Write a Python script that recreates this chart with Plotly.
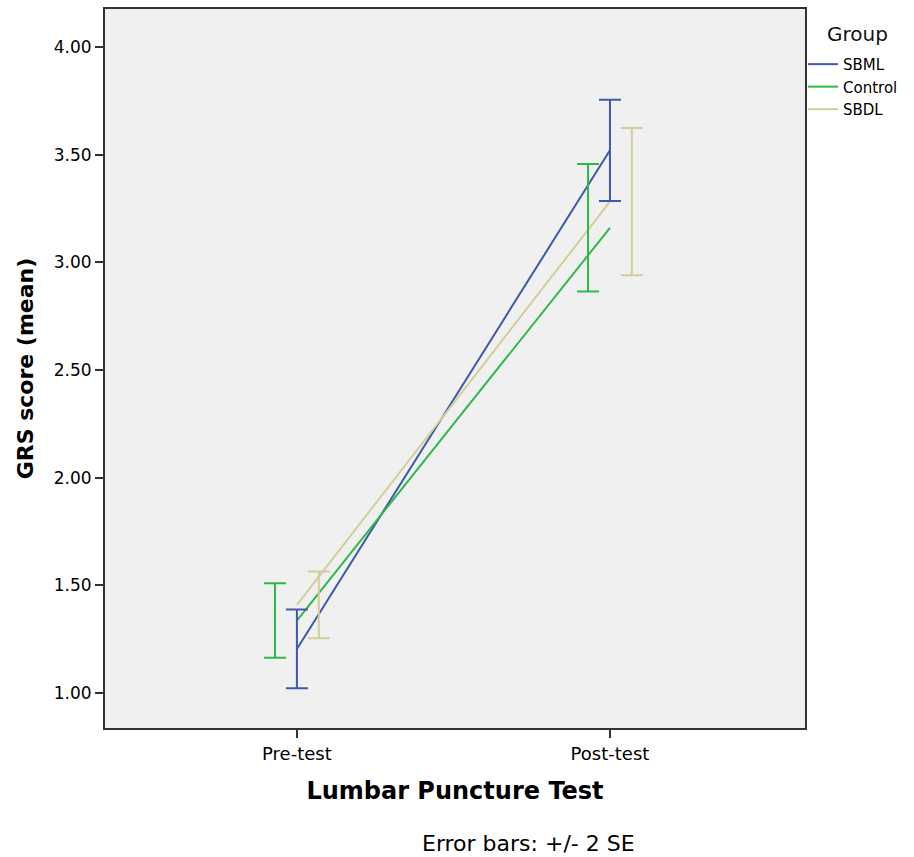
import plotly.graph_objects as go

categories = ["Pre-test", "Post-test"]
groups = ["SBML", "Control", "SBDL"]
means = {
    "SBML": [1.205, 3.52],
    "Control": [1.337, 3.160],
    "SBDL": [1.410, 3.282],
}
err2se = {
    "SBML": [0.183, 0.235],
    "Control": [0.173, 0.296],
    "SBDL": [0.155, 0.342],
}
y_ticks = [1.0, 1.5, 2.0, 2.5, 3.0, 3.5, 4.0]
colors = {"SBML": "#3E58AC", "Control": "#2EB848", "SBDL": "#D3CE97"}
dodge = {"SBML": 0.0, "Control": -0.07, "SBDL": 0.07}

xpos = list(range(len(categories)))
font = "DejaVu Sans, Lato, sans-serif"

W, H = 914, 857
ML, MR, MT, MB = 105, 109, 7, 129
PW, PH = W - ML - MR, H - MT - MB

def px_x(x):
    return (x - ML) / PW

def px_y(y):
    return (H - MB - y) / PH

fig = go.Figure()
for g in groups:
    fig.add_trace(go.Scatter(
        x=xpos, y=means[g], mode="lines", name=g,
        line=dict(color=colors[g], width=2),
        hoverinfo="skip",
    ))
for g in groups:
    fig.add_trace(go.Scatter(
        x=[p + dodge[g] for p in xpos], y=means[g], mode="markers",
        marker=dict(size=1, color="rgba(0,0,0,0)"),
        error_y=dict(type="data", array=err2se[g], color=colors[g], thickness=2, width=11),
        showlegend=False, hoverinfo="skip",
    ))

fig.update_layout(
    width=W, height=H,
    margin=dict(l=ML, r=MR, t=MT, b=MB),
    paper_bgcolor="white", plot_bgcolor="#F0F0F0",
    font=dict(family=font, color="black"),
    showlegend=True,
    legend=dict(
        x=px_x(803), xanchor="left", y=px_y(46), yanchor="top",
        font=dict(size=15, color="black"), itemwidth=30,
        bgcolor="rgba(0,0,0,0)", tracegroupgap=0,
    ),
    xaxis=dict(
        range=[-0.613, 0.623 + 1], tickvals=xpos, ticktext=categories,
        showgrid=False, zeroline=False, showline=True, linecolor="#333", linewidth=2,
        mirror=True, ticks="outside", ticklen=8, tickcolor="#333", tickwidth=2,
        tickfont=dict(size=18),
        title=dict(text="<b>Lumbar Puncture Test</b>", font=dict(size=24), standoff=20),
    ),
    yaxis=dict(
        range=[0.838, 4.176], tickvals=y_ticks, tickformat=".2f",
        showgrid=False, zeroline=False, showline=True, linecolor="#333", linewidth=2,
        mirror=True, ticks="outside", ticklen=8, tickcolor="#333", tickwidth=2,
        tickfont=dict(size=17),
        title=dict(text="<b>GRS score (mean)</b>", font=dict(size=22), standoff=14),
    ),
    annotations=[
        dict(text="Error bars: +/- 2 SE", x=px_x(420), xref="paper", y=px_y(844), yref="paper",
             showarrow=False, font=dict(size=22), xanchor="left", yanchor="middle"),
        dict(text="Group", x=px_x(857), xref="paper", y=px_y(32), yref="paper",
             showarrow=False, font=dict(size=20, color="#111"), xanchor="center", yanchor="middle"),
    ],
)

fig.write_html("out.html", config={"displayModeBar": False},
               post_script="document.body.style.margin='0px';")
